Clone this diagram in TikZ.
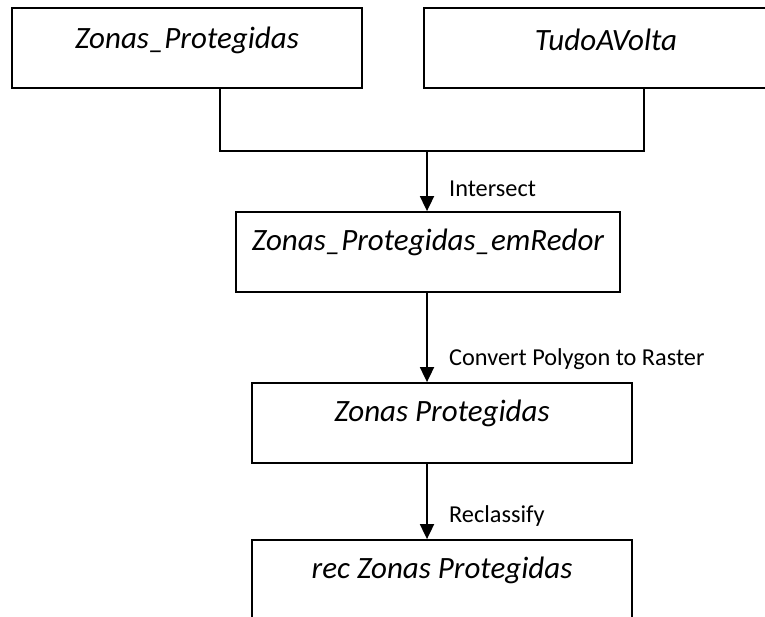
\documentclass[tikz,border=0pt]{standalone}
\usepackage{fontspec}
\setmainfont{Carlito}
\usetikzlibrary{arrows.meta}
\begin{document}
\begin{tikzpicture}[x=1pt,y=-1pt,
  layer/.style={draw, line width=1.8pt, rectangle, inner sep=0pt},
  boxtext/.style={font=\fontsize{31}{36}\selectfont\itshape, inner sep=0pt},
  steplabel/.style={font=\fontsize{24.3}{28}\selectfont, anchor=west, inner sep=0pt},
  link/.style={line width=1.8pt},
  flow/.style={line width=1.8pt, -{Triangle[width=14pt,length=15pt]}}]
  \useasboundingbox (0,0) rectangle (765,616);
  \clip (0,0) rectangle (765,616);

  % input layers
  \node[layer, minimum width=350pt, minimum height=80pt] (b1) at (187,48) {};
  \node[boxtext] (t1) at ([yshift=-33pt]b1.north) {Zonas\_Protegidas};
  \node[layer, minimum width=364pt, minimum height=80pt] (b2) at (606,48) {};
  \node[boxtext] (t2) at ([yshift=-33pt]b2.north) {TudoAVolta};

  % intersection result and rasters
  \node[layer, minimum width=384pt, minimum height=80pt] (b3) at (428,252) {};
  \node[boxtext] (t3) at ([yshift=-31pt]b3.north) {Zonas\_Protegidas\_emRedor};
  \node[layer, minimum width=380pt, minimum height=80pt] (b4) at (442,423) {};
  \node[boxtext] (t4) at ([yshift=-31pt]b4.north) {Zonas Protegidas};
  \node[layer, minimum width=380pt, minimum height=90pt] (b5) at (442,585) {};
  \node[boxtext] (t5) at ([yshift=-31pt]b5.north) {rec Zonas Protegidas};

  % junction of the two inputs
  \coordinate (m1) at (220,151);
  \coordinate (m2) at (644,151);
  \coordinate (j) at (427,151);
  \draw[link] (b1.south -| m1) -- (m1) -- (m2) -- (b2.south -| m2);

  % processing steps
  \draw[flow] (j) -- (b3.north -| j);
  \node[steplabel] (l1) at (449,189) {Intersect};
  \draw[flow] (b3.south -| j) -- (b4.north -| j);
  \node[steplabel] (l2) at (449,359) {Convert Polygon to Raster};
  \draw[flow] (b4.south -| j) -- (b5.north -| j);
  \node[steplabel] (l3) at (449,516) {Reclassify};
\end{tikzpicture}
\end{document}
